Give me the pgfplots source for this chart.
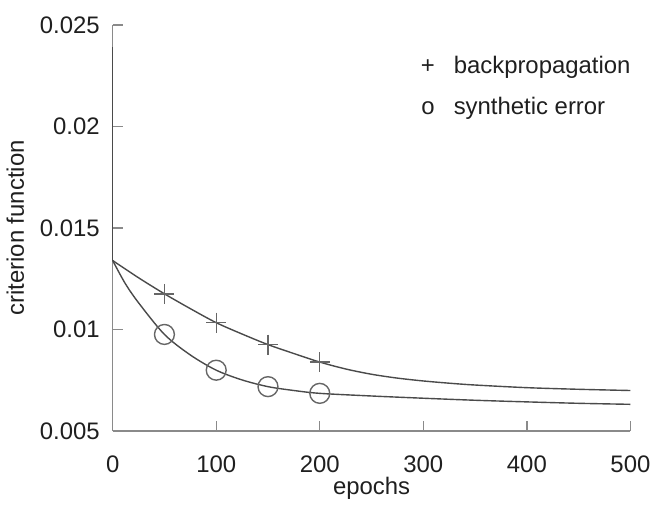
\documentclass[border=0pt]{standalone}
\usepackage{fontspec}
\setmainfont{Liberation Sans}
\usepackage{pgfplots}
\pgfplotsset{compat=1.18}
\definecolor{axgray}{HTML}{8A8A8A}
\definecolor{curve}{HTML}{4A4A4A}
\definecolor{markc}{HTML}{666666}
\begin{document}
\begin{tikzpicture}
\begin{axis}[
    width=260pt, height=204pt, scale only axis,
    xmin=0, xmax=500, ymin=0.005, ymax=0.025,
    axis x line*=bottom, axis y line*=left,
    axis line style={axgray, line width=0.7pt},
    tick style={axgray, line width=0.7pt},
    tick align=inside, major tick length=5pt,
    xtick={0,100,200,300,400,500},
    ytick={0.005,0.01,0.015,0.02,0.025},
    yticklabels={0.005,0.01,0.015,0.02,0.025},
    scaled y ticks=false,
    /pgf/number format/assume math mode=true,
    tick label style={font=\fontsize{12}{14}\selectfont, text=black!88},
    label style={font=\fontsize{12}{14}\selectfont, text=black!88},
    xticklabel style={yshift=-9pt},
    yticklabel style={xshift=-3pt},
    xlabel={epochs}, ylabel={criterion function},
    xlabel style={yshift=5pt},
    ylabel style={yshift=1pt},
    clip=false,
]
% initial drop at epoch 0
\addplot[curve, line width=0.7pt] coordinates {(0,0.0239) (0,0.0134)};
% backpropagation curve
\addplot[curve, line width=0.7pt, smooth] coordinates {
  (0,0.0134) (25,0.01255) (50,0.01176) (75,0.01103) (100,0.01034)
  (125,0.00978) (150,0.00926) (175,0.00882) (200,0.00840) (225,0.00806)
  (250,0.00780) (275,0.00761) (300,0.00747) (325,0.00736) (350,0.00727)
  (400,0.00714) (450,0.00706) (500,0.00700)
};
% synthetic error curve
\addplot[curve, line width=0.7pt, smooth] coordinates {
  (0,0.0134) (12,0.01228) (25,0.01132) (50,0.00976) (75,0.00875)
  (100,0.00800) (125,0.00752) (150,0.00719) (175,0.00700) (200,0.00686)
  (250,0.00673) (300,0.00662) (350,0.00652) (400,0.00644) (450,0.00637)
  (500,0.00632)
};
\addplot[only marks, mark=+, mark size=5pt, markc, mark options={line width=0.7pt}] coordinates {
  (50,0.01176) (100,0.01034) (150,0.00926) (200,0.00840)
};
\addplot[only marks, mark=o, mark size=5pt, markc, mark options={line width=0.7pt}] coordinates {
  (50,0.00976) (100,0.00800) (150,0.00719) (200,0.00686)
};
\node[anchor=west, inner sep=0pt, font=\fontsize{12}{14}\selectfont, text=black!88] at (axis cs:292.5,0.02289) {\makebox[12pt]{+}\hspace{7pt}backpropagation};
\node[anchor=west, inner sep=0pt, font=\fontsize{12}{14}\selectfont, text=black!88] at (axis cs:292.5,0.02088) {\makebox[12pt]{o}\hspace{7pt}synthetic error};
\coordinate (T) at (rel axis cs:0,1);
\end{axis}
\path (T) -- ++(0,12.5pt);
\end{tikzpicture}
\end{document}
